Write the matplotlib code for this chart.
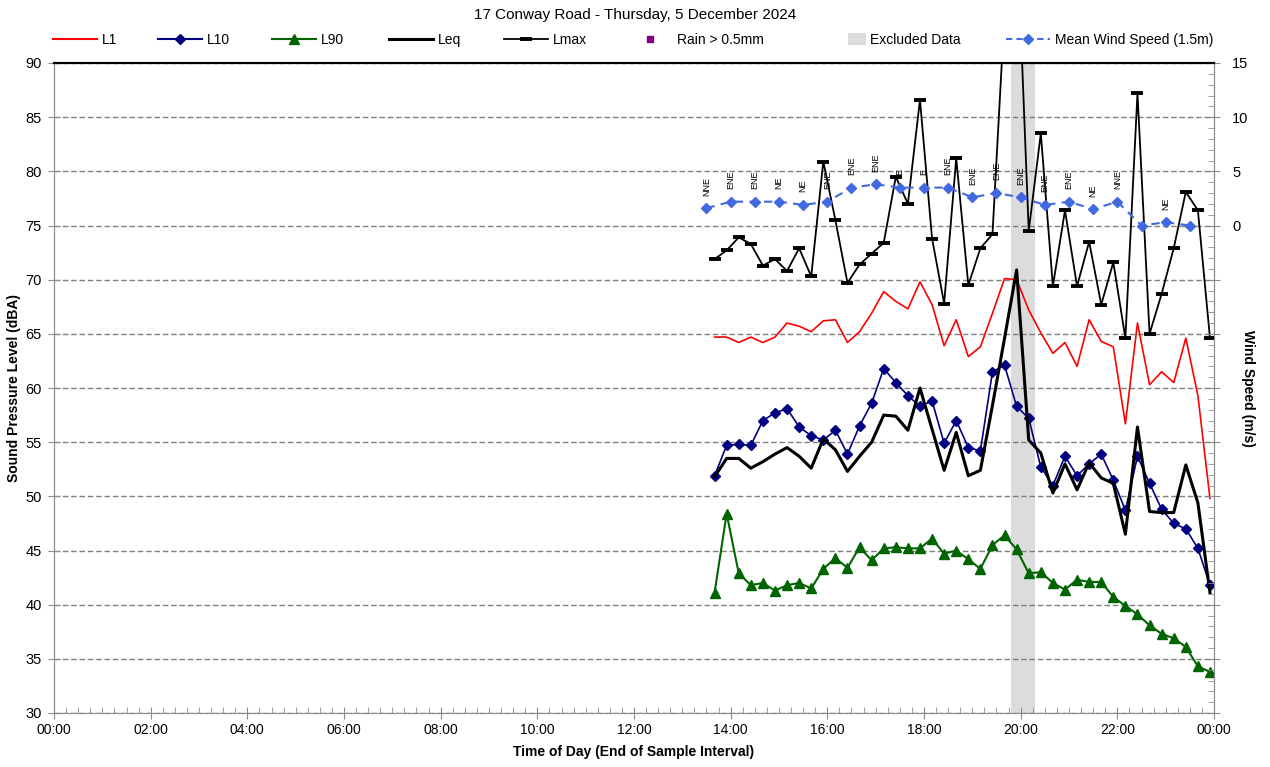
import matplotlib
matplotlib.use("Agg")
import matplotlib.pyplot as plt
from matplotlib.lines import Line2D
from matplotlib.patches import Patch
from matplotlib.ticker import MultipleLocator, FuncFormatter

plt.rcParams["font.family"] = ["Liberation Sans", "DejaVu Sans"]

# ─── data (end of 15-min sample interval) ───
times = ["13:40", "13:55", "14:10", "14:25", "14:40", "14:55", "15:10", "15:25", "15:40", "15:55",
         "16:10", "16:25", "16:40", "16:55", "17:10", "17:25", "17:40", "17:55", "18:10", "18:25",
         "18:40", "18:55", "19:10", "19:25", "19:40", "19:55", "20:10", "20:25", "20:40", "20:55",
         "21:10", "21:25", "21:40", "21:55", "22:10", "22:25", "22:40", "22:55", "23:10", "23:25",
         "23:40", "23:55"]
L1 = [64.7, 64.7, 64.2, 64.7, 64.2, 64.7, 66.0, 65.7, 65.2, 66.2, 66.3, 64.2, 65.2, 66.9, 68.9,
      68.0, 67.3, 69.8, 67.7, 63.9, 66.3, 62.9, 63.8, 66.9, 70.1, 70.0, 67.2, 65.1, 63.2, 64.2,
      62.0, 66.3, 64.3, 63.8, 56.7, 66.0, 60.3, 61.5, 60.5, 64.6, 59.3, 49.8]
L10 = [51.9, 54.7, 54.8, 54.7, 57.0, 57.7, 58.1, 56.4, 55.6, 55.2, 56.1, 53.9, 56.5, 58.6, 61.8,
       60.5, 59.3, 58.3, 58.8, 54.9, 57.0, 54.5, 54.2, 61.5, 62.1, 58.3, 57.2, 52.7, 51.0, 53.7,
       51.9, 53.0, 53.9, 51.5, 48.7, 53.7, 51.2, 48.8, 47.5, 47.0, 45.2, 41.8]
L90 = [41.1, 48.4, 42.9, 41.8, 42.0, 41.3, 41.8, 42.0, 41.5, 43.3, 44.3, 43.4, 45.3, 44.1, 45.2,
       45.3, 45.2, 45.2, 46.1, 44.7, 45.0, 44.2, 43.3, 45.5, 46.4, 45.1, 42.9, 43.0, 42.0, 41.4,
       42.3, 42.1, 42.1, 40.7, 39.9, 39.1, 38.1, 37.3, 36.9, 36.1, 34.3, 33.8]
Leq = [51.8, 53.5, 53.5, 52.6, 53.2, 53.9, 54.5, 53.7, 52.6, 55.3, 54.3, 52.3, 53.7, 55.0, 57.5,
       57.4, 56.1, 60.0, 56.2, 52.4, 55.9, 51.9, 52.4, 58.4, 64.6, 70.9, 55.2, 54.0, 50.3, 53.0,
       50.6, 53.1, 51.7, 51.2, 46.5, 56.4, 48.6, 48.5, 48.5, 52.9, 49.4, 41.1]
Lmax = [71.9, 72.7, 73.9, 73.3, 71.3, 71.9, 70.8, 72.9, 70.3, 80.9, 75.5, 69.7, 71.4, 72.4, 73.4,
        79.5, 77.0, 86.6, 73.8, 67.8, 81.2, 69.5, 72.9, 74.2, 94.7, 102.9, 74.5, 83.5, 69.4, 76.4,
        69.4, 73.5, 67.7, 71.6, 64.6, 87.2, 65.0, 68.7, 72.9, 78.1, 76.4, 64.6]

wind_times = ["13:30", "14:00", "14:30", "15:00", "15:30", "16:00", "16:30", "17:00", "17:30",
              "18:00", "18:30", "19:00", "19:30", "20:00", "20:30", "21:00", "21:30", "22:00",
              "22:30", "23:00", "23:30"]
wind_speed = [1.6, 2.2, 2.2, 2.2, 1.9, 2.2, 3.5, 3.8, 3.5, 3.5, 3.5, 2.6, 3.0, 2.6, 1.9, 2.2,
              1.5, 2.2, 0.0, 0.3, 0.0]
wind_dir = ["NNE", "ENE", "ENE", "NE", "NE", "ENE", "ENE", "ENE", "E", "E", "ENE", "ENE", "ENE",
            "ENE", "ENE", "ENE", "NE", "NNE", "", "NE", ""]

excluded = ("19:47:30", "20:17:30")


def to_hours(s):
    parts = [float(p) for p in s.split(":")]
    return parts[0] + parts[1] / 60 + (parts[2] / 3600 if len(parts) > 2 else 0)


t = [to_hours(s) for s in times]
tw = [to_hours(s) for s in wind_times]

# ─── figure ───
fig = plt.figure(figsize=(12.7, 7.67), dpi=100)
ax = fig.add_axes([54 / 1270, 1 - 713 / 767, 1160 / 1270, 650 / 767])
ax2 = ax.twinx()

ax.axvspan(to_hours(excluded[0]), to_hours(excluded[1]), color="#DCDCDC", zorder=0, lw=0)

ax.plot(t, L1, color="#FF0000", lw=1.2, zorder=3)
ax.plot(t, L10, color="#000080", lw=1.2, marker="D", ms=5.5, zorder=4)
ax.plot(t, L90, color="#006400", lw=1.5, marker="^", ms=7.5, zorder=4)
ax.plot(t, Leq, color="black", lw=2.2, zorder=5)
ax.plot(t, Lmax, color="black", lw=1.3, marker="_", ms=9, mew=2.8, zorder=5)

ax2.plot(tw, wind_speed, color="#4169E1", lw=1.5, ls=(0, (4, 3)), marker="D", ms=5.5)
for x, y, d in zip(tw, wind_speed, wind_dir):
    ax2.annotate(d, (x, y), xytext=(0, 9), textcoords="offset points", rotation=90,
                 ha="center", va="bottom", fontsize=6.5)

# ─── axes ───
ax.set_xlim(0, 24)
ax.set_ylim(30, 90)
ax2.set_ylim(-45, 15)

ax.xaxis.set_major_locator(MultipleLocator(2))
ax.xaxis.set_minor_locator(MultipleLocator(0.25))
ax.xaxis.set_major_formatter(FuncFormatter(lambda v, p: "%02d:00" % (int(round(v)) % 24)))
ax.yaxis.set_major_locator(MultipleLocator(5))
ax2.yaxis.set_major_locator(MultipleLocator(5))
ax2.yaxis.set_minor_locator(MultipleLocator(1))
ax2.yaxis.set_major_formatter(FuncFormatter(lambda v, p: "%d" % v if v >= 0 else ""))

ax.grid(axis="y", color="#808080", ls=(0, (4, 2)), lw=1)
ax.set_axisbelow(True)

for a in (ax, ax2):
    for side in ("left", "right", "bottom"):
        a.spines[side].set_color("#8C8C8C")
    a.spines["top"].set_color("black")
    a.spines["top"].set_linewidth(1.5)

ax.tick_params(axis="x", which="major", direction="inout", length=8, color="#8C8C8C",
               labelsize=10, pad=3)
ax.tick_params(axis="y", which="major", direction="inout", length=8, color="#8C8C8C",
               labelsize=10.5, pad=5)
ax.tick_params(axis="x", which="minor", direction="in", length=4, color="#8C8C8C")
ax2.tick_params(axis="y", which="major", direction="inout", length=8, color="#8C8C8C",
                labelsize=10.5, pad=9)
ax2.tick_params(axis="y", which="minor", direction="in", length=4, color="#8C8C8C")

# ─── labels ───
fig.text(0.5, 1 - 15 / 767, "17 Conway Road - Thursday, 5 December 2024",
         ha="center", va="center", fontsize=11)
fig.text(634 / 1270, 1 - 752 / 767, "Time of Day (End of Sample Interval)",
         ha="center", va="center", fontsize=10, fontweight="bold")
fig.text(14 / 1270, 1 - 388 / 767, "Sound Pressure Level (dBA)", rotation=90,
         ha="center", va="center", fontsize=10, fontweight="bold")
fig.text(1248 / 1270, 1 - 388 / 767, "Wind Speed (m/s)", rotation=270,
         ha="center", va="center", fontsize=10, fontweight="bold")

# ─── legend row ───
entries = [
    (Line2D([], [], color="#FF0000", lw=1.5), "L1", 53, 3.2),
    (Line2D([], [], color="#000080", lw=1.5, marker="D", ms=5), "L10", 158, 3.2),
    (Line2D([], [], color="#006400", lw=1.5, marker="^", ms=7), "L90", 272, 3.2),
    (Line2D([], [], color="black", lw=2.2), "Leq", 389, 3.2),
    (Line2D([], [], color="black", lw=1.3, marker="_", ms=9, mew=2.8), "Lmax", 504, 3.2),
    (Line2D([], [], color="#800080", ls="none", marker="s", ms=4), "Rain > 0.5mm", 628, 3.2),
    (Patch(facecolor="#DCDCDC", edgecolor="none"), "Excluded Data", 848, 1.3),
    (Line2D([], [], color="#4169E1", lw=1.5, ls=(0, (3, 2)), marker="D", ms=5),
     "Mean Wind Speed (1.5m)", 1006, 3.2),
]
for h, lab, x0, hl in entries:
    fig.legend(handles=[h], labels=[lab], loc="center left",
               bbox_to_anchor=(x0 / 1270, 1 - 40 / 767), frameon=False, fontsize=10,
               borderpad=0, borderaxespad=0, handlelength=hl, handletextpad=0.3,
               handleheight=1.0)

fig.savefig("out.png", dpi=100)
